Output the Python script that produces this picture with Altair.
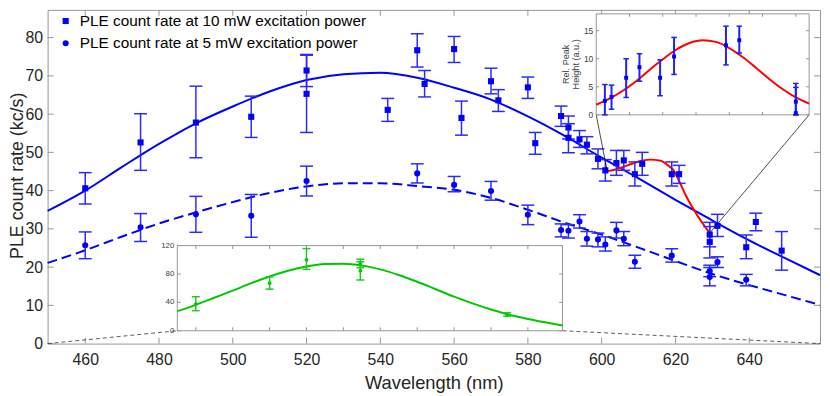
import altair as alt
import pandas as pd

FONT = "Liberation Sans"
LAB10 = "PLE count rate at 10 mW excitation power"
LAB5 = "PLE count rate at 5 mW excitation power"

# ---------------- data ----------------
sq_x = [460, 475, 490, 505, 520, 520, 542, 550, 552, 560, 562, 570, 572, 580, 582, 589, 591, 591, 594, 596,
        599, 601, 604, 606, 609, 611, 619, 621, 629.3, 629.3, 631.4, 639.2, 641.8, 648.8]
sq_y = [40.6, 52.6, 57.8, 59.3, 71.4, 65.3, 61.1, 76.7, 67.9, 77.0, 59.0, 68.6, 63.6, 67.0, 52.4, 59.5, 56.5, 53.8,
        53.4, 52.0, 48.3, 45.3, 47.2, 47.9, 44.3, 47.0, 44.3, 44.3, 28.5, 26.6, 30.8, 25.2, 31.8, 24.3]
sq_lo = [36.5, 45.3, 48.6, 53.9, 67.2, 55.2, 58.1, 72.3, 64.5, 73.5, 54.5, 65.3, 60.7, 64.1, 49.5, 56.8, 53.5, 49.9,
         51.3, 49.6, 45.7, 42.5, 44.0, 45.3, 41.2, 44.0, 41.2, 41.9, 25.3, 22.4, 28.0, 22.2, 29.5, 19.2]
sq_hi = [44.7, 60.1, 67.3, 64.7, 75.6, 75.4, 64.1, 81.0, 71.4, 80.3, 63.4, 72.0, 66.4, 69.7, 55.2, 62.1, 59.5, 57.5,
         55.7, 54.1, 50.9, 48.1, 50.5, 50.5, 47.5, 50.0, 47.5, 46.6, 31.7, 30.6, 33.8, 28.4, 34.1, 29.3]

ci_x = [460, 475, 490, 505, 520, 550, 560, 570, 580, 589, 591, 594, 596, 599, 601, 604, 606, 609, 619,
        629.3, 629.3, 631.4, 639.2]
ci_y = [25.7, 30.4, 33.8, 33.4, 42.5, 44.5, 41.5, 39.9, 33.7, 29.7, 29.5, 31.9, 27.4, 27.2, 25.9, 29.6, 27.4,
        21.4, 23.0, 19.0, 17.4, 21.3, 16.7]
ci_lo = [22.2, 26.7, 29.1, 27.8, 38.6, 42.0, 39.7, 37.5, 31.1, 27.9, 27.6, 30.2, 25.5, 25.3, 24.2, 27.6, 25.6,
         19.7, 21.3, 17.5, 15.1, 19.9, 15.1]
ci_hi = [29.2, 34.0, 38.5, 39.0, 46.4, 47.0, 43.7, 42.4, 36.2, 31.3, 31.1, 33.7, 29.3, 28.9, 27.9, 31.7, 29.3,
         23.1, 24.8, 20.5, 19.9, 22.7, 18.1]

fit_x = [449.8, 460, 470, 480, 490, 500, 510, 520, 530, 540, 550, 560, 570, 580, 590, 600, 610, 620, 630,
         640, 650, 659.2]
fit10_y = [34.7, 40.0, 46.2, 52.2, 57.6, 62.0, 65.9, 68.9, 70.4, 70.8, 69.5, 66.9, 63.8, 59.4, 54.3, 48.6,
           43.2, 37.6, 32.2, 27.0, 22.2, 17.9]
fit5_y = [21.1, 24.4, 28.0, 31.4, 34.3, 37.0, 39.4, 41.1, 41.9, 41.9, 41.2, 40.2, 38.1, 35.0, 31.6, 28.5,
          25.1, 21.6, 18.2, 15.3, 12.6, 10.1]

red_x = [601.5, 604, 607, 610, 613, 616, 618, 619.5, 621, 623, 625.7, 629.3]
red_y = [45.1, 45.6, 46.6, 47.6, 48.1, 47.8, 46.6, 45.3, 42.5, 38.4, 33.9, 28.9]

grn_x = [490, 510, 520, 534.6, 534.6, 574.4]
grn_y = [37.7, 67.0, 100.0, 94.5, 84.6, 22.8]
grn_lo = [28.3, 58.6, 86.5, 88.8, 71.5, 20.5]
grn_hi = [47.9, 75.8, 115.8, 100.8, 97.2, 25.5]
grnfit_x = [485, 490, 495, 500, 505, 510, 515, 520, 525, 530, 535, 540, 545, 550, 555, 560, 565, 570, 575,
            580, 585, 589.4]
grnfit_y = [27.5, 36.5, 46.5, 56.5, 67.0, 76.5, 84.5, 90.5, 94.0, 94.5, 92.0, 86.5, 78.5, 69.0, 58.5, 48.0,
            38.5, 30.0, 22.5, 16.5, 11.5, 7.4]

ins_x = [601.3, 602.3, 604.5, 606.5, 609.6, 611.7, 619.5, 621.5, 630.0, 630.0]
ins_y = [2.5, 3.2, 6.6, 8.5, 6.6, 10.4, 12.4, 13.3, 2.35, 0.3]
ins_lo = [0.0, 1.0, 3.1, 6.0, 3.4, 7.2, 8.9, 11.0, 0.0, 0.0]
ins_hi = [5.4, 5.3, 10.0, 10.9, 9.8, 13.8, 15.8, 15.8, 5.6, 4.9]
insfit_x = [600, 602, 604, 606, 608, 610, 612, 614, 616, 618, 620, 622, 624, 626, 628, 630, 632]
insfit_y = [1.8, 2.9, 4.3, 6.0, 8.0, 9.9, 11.6, 12.8, 13.3, 13.0, 11.9, 10.3, 8.4, 6.4, 4.6, 3.1, 2.0]

x_ticks = [460, 480, 500, 520, 540, 560, 580, 600, 620, 640]
y_ticks = [0, 10, 20, 30, 40, 50, 60, 70, 80]
grn_xticks = [490, 500, 510, 520, 530, 540, 550, 560, 570, 580]
grn_yticks = [0, 40, 80, 120]
ins_xticks = [605, 610, 615, 620, 625, 630]
ins_yticks = [0, 5, 10, 15]
ins_title = ["Rel. Peak", "Height (a.u.)"]

# ---------------- layout ----------------
W, H = 780, 337
X_DOM = [449.8, 659.2]
Y_DOM = [0, 87.25]
GRN_DX, GRN_DY = [485, 589.4], [0, 120]
GRN_RX, GRN_RY = [131, 520], [324, 238]
INS_DX, INS_DY = [600, 632], [0, 18]
INS_RX, INS_RY = [554, 769], [106, 4]

FRAME = "#969696"
BLUE = "#0000ff"
EBAR = "#2a2aff"
GREEN = "#00c800"
GBAR = "#22c822"
RED = "#ff0000"


def to_main(px, py):
    return (X_DOM[0] + px / W * (X_DOM[1] - X_DOM[0]),
            Y_DOM[0] + (H - py) / H * (Y_DOM[1] - Y_DOM[0]))


SX = alt.Scale(domain=X_DOM, nice=False, zero=False)
SY = alt.Scale(domain=Y_DOM, nice=False, zero=False)
AX_X = alt.Axis(values=x_ticks, title="Wavelength (nm)", tickSize=0, domain=False, grid=False,
                labelPadding=8, labelFontSize=16, titleFontSize=18.5, titleY=45,
                titleBaseline="alphabetic", labelFlush=False, format="d")
AX_Y = alt.Axis(values=y_ticks, title="PLE count rate (kc/s)", tickSize=0, domain=False, grid=False,
                labelPadding=5, labelFontSize=16, titleFontSize=18, titleX=-25, titleY=167,
                titleAngle=270, titleAlign="center", titleBaseline="alphabetic", format="d")


def MX(f):
    return alt.X(f, scale=SX, axis=AX_X)


def MY(f):
    return alt.Y(f, scale=SY, axis=AX_Y)


pts = pd.DataFrame({
    "x": sq_x + ci_x, "y": sq_y + ci_y, "lo": sq_lo + ci_lo, "hi": sq_hi + ci_hi,
    "s": [LAB10] * len(sq_x) + [LAB5] * len(ci_x)})
fit = pd.DataFrame({"x": fit_x, "y10": fit10_y, "y5": fit5_y})
redm = pd.DataFrame({"x": red_x, "y": red_y})

# connectors
c1 = to_main(INS_RX[0], INS_RY[0])
c2 = to_main(INS_RX[1], INS_RY[0])
conn_red = pd.DataFrame({
    "x": [c1[0], red_x[0], c2[0], red_x[-1]],
    "y": [c1[1], red_y[0], c2[1], red_y[-1]],
    "g": ["a", "a", "b", "b"]})
g1 = to_main(GRN_RX[0], GRN_RY[0])
g2 = to_main(GRN_RX[1], GRN_RY[0])
conn_grn = pd.DataFrame({
    "x": [g1[0], X_DOM[0], g2[0], X_DOM[1]],
    "y": [g1[1], Y_DOM[0], g2[1], Y_DOM[0]],
    "g": ["a", "a", "b", "b"]})

xt = pd.DataFrame({"x": x_ticks, "b0": Y_DOM[0], "b1": Y_DOM[1]})
yt = pd.DataFrame({"y": y_ticks, "b0": X_DOM[0], "b1": X_DOM[1]})
TL = 6

main = alt.layer(
    alt.Chart(xt).mark_rule(color=FRAME, y2Offset=-TL).encode(x=MX("x:Q"), y=MY("b0:Q"), y2="b0:Q"),
    alt.Chart(xt).mark_rule(color=FRAME, y2Offset=TL).encode(x=MX("x:Q"), y=MY("b1:Q"), y2="b1:Q"),
    alt.Chart(yt).mark_rule(color=FRAME, x2Offset=TL).encode(y=MY("y:Q"), x=MX("b0:Q"), x2="b0:Q"),
    alt.Chart(yt).mark_rule(color=FRAME, x2Offset=-TL).encode(y=MY("y:Q"), x=MX("b1:Q"), x2="b1:Q"),
    alt.Chart(conn_grn).mark_line(color="#333333", strokeWidth=0.8, strokeDash=[4, 3]).encode(
        x=MX("x:Q"), y=MY("y:Q"), detail="g:N"),
    alt.Chart(fit).mark_line(color=BLUE, strokeWidth=2, interpolate="monotone").encode(
        x=MX("x:Q"), y=MY("y10:Q")),
    alt.Chart(fit).mark_line(color=BLUE, strokeWidth=2, interpolate="monotone", strokeDash=[10, 5]).encode(
        x=MX("x:Q"), y=MY("y5:Q")),
    alt.Chart(redm).mark_line(color=RED, strokeWidth=2, interpolate="monotone").encode(
        x=MX("x:Q"), y=MY("y:Q")),
    alt.Chart(pts).mark_rule(color=EBAR, strokeWidth=1.5).encode(x=MX("x:Q"), y=MY("lo:Q"), y2="hi:Q"),
    alt.Chart(pts).mark_rule(color=EBAR, strokeWidth=1.5, xOffset=-6.5, x2Offset=6.5).encode(
        x=MX("x:Q"), x2="x:Q", y=MY("lo:Q")),
    alt.Chart(pts).mark_rule(color=EBAR, strokeWidth=1.5, xOffset=-6.5, x2Offset=6.5).encode(
        x=MX("x:Q"), x2="x:Q", y=MY("hi:Q")),
    alt.Chart(pts).mark_point(filled=True, size=38, color=BLUE, opacity=1).encode(
        x=MX("x:Q"), y=MY("y:Q"),
        shape=alt.Shape("s:N", scale=alt.Scale(domain=[LAB10, LAB5], range=["square", "circle"]),
                        legend=alt.Legend(orient="none", legendX=10.5, legendY=3.5, title=None,
                                          labelFontSize=15.5, labelFont=FONT, labelColor="#000000",
                                          labelOffset=6.5, rowPadding=5.5, padding=0,
                                          symbolSize=38, symbolFillColor=BLUE, symbolStrokeColor=BLUE,
                                          symbolStrokeWidth=0, symbolOpacity=1, labelLimit=400))),
    alt.Chart(conn_red).mark_line(color="#000000", strokeWidth=0.7).encode(
        x=MX("x:Q"), y=MY("y:Q"), detail="g:N"),
)


def inset(dx, dy, rx, ry, xticks, yticks, tl, lab_size):
    SXi = alt.Scale(domain=dx, range=rx, nice=False, zero=False)
    SYi = alt.Scale(domain=dy, range=ry, nice=False, zero=False)

    def IX(f):
        return alt.X(f, scale=SXi, axis=None)

    def IY(f):
        return alt.Y(f, scale=SYi, axis=None)

    fr = pd.DataFrame({"x0": [dx[0]], "x1": [dx[1]], "y0": [dy[0]], "y1": [dy[1]]})
    xt_i = pd.DataFrame({"x": xticks, "b0": dy[0], "b1": dy[1]})
    yt_i = pd.DataFrame({"y": yticks, "b0": dx[0], "b1": dx[1]})
    layers = [
        alt.Chart(fr).mark_rect(fill="white", stroke=FRAME, strokeWidth=1).encode(
            x=IX("x0:Q"), x2="x1:Q", y=IY("y0:Q"), y2="y1:Q"),
        alt.Chart(xt_i).mark_rule(color=FRAME, y2Offset=-tl).encode(x=IX("x:Q"), y=IY("b0:Q"), y2="b0:Q"),
        alt.Chart(xt_i).mark_rule(color=FRAME, y2Offset=tl).encode(x=IX("x:Q"), y=IY("b1:Q"), y2="b1:Q"),
        alt.Chart(yt_i).mark_rule(color=FRAME, x2Offset=tl).encode(y=IY("y:Q"), x=IX("b0:Q"), x2="b0:Q"),
        alt.Chart(yt_i).mark_rule(color=FRAME, x2Offset=-tl).encode(y=IY("y:Q"), x=IX("b1:Q"), x2="b1:Q"),
        alt.Chart(yt_i).mark_text(align="right", baseline="middle", dx=-3, fontSize=lab_size,
                                  color="#404040", font=FONT).encode(
            y=IY("y:Q"), x=IX("b0:Q"), text="y:N"),
    ]
    return IX, IY, layers


# green inset
GIX, GIY, glayers = inset(GRN_DX, GRN_DY, GRN_RX, GRN_RY, grn_xticks, grn_yticks, 3.5, 8)
gd = pd.DataFrame({"x": grn_x, "y": grn_y, "lo": grn_lo, "hi": grn_hi})
gf = pd.DataFrame({"x": grnfit_x, "y": grnfit_y})
glayers += [
    alt.Chart(gf).mark_line(color=GREEN, strokeWidth=2, interpolate="monotone").encode(x=GIX("x:Q"), y=GIY("y:Q")),
    alt.Chart(gd).mark_rule(color=GBAR, strokeWidth=1.5).encode(x=GIX("x:Q"), y=GIY("lo:Q"), y2="hi:Q"),
    alt.Chart(gd).mark_rule(color=GBAR, strokeWidth=1.5, xOffset=-4, x2Offset=4).encode(
        x=GIX("x:Q"), x2="x:Q", y=GIY("lo:Q")),
    alt.Chart(gd).mark_rule(color=GBAR, strokeWidth=1.5, xOffset=-4, x2Offset=4).encode(
        x=GIX("x:Q"), x2="x:Q", y=GIY("hi:Q")),
    alt.Chart(gd).mark_circle(size=14, color=GREEN, opacity=1).encode(x=GIX("x:Q"), y=GIY("y:Q")),
]
green = alt.layer(*glayers)

# red inset
RIX, RIY, rlayers = inset(INS_DX, INS_DY, INS_RX, INS_RY, ins_xticks, ins_yticks, 3, 8.5)
rd = pd.DataFrame({"x": ins_x, "y": ins_y, "lo": ins_lo, "hi": ins_hi})
rf = pd.DataFrame({"x": insfit_x, "y": insfit_y})
tt = pd.DataFrame({"t": ins_title, "px": [523.5, 534.0], "py": [55, 55]})
rlayers += [
    alt.Chart(rf).mark_line(color=RED, strokeWidth=2, interpolate="monotone").encode(x=RIX("x:Q"), y=RIY("y:Q")),
    alt.Chart(rd).mark_rule(color="#1f1fff", strokeWidth=2).encode(x=RIX("x:Q"), y=RIY("lo:Q"), y2="hi:Q"),
    alt.Chart(rd).mark_rule(color="#1f1fff", strokeWidth=1.5, xOffset=-2.8, x2Offset=2.8).encode(
        x=RIX("x:Q"), x2="x:Q", y=RIY("lo:Q")),
    alt.Chart(rd).mark_rule(color="#1f1fff", strokeWidth=1.5, xOffset=-2.8, x2Offset=2.8).encode(
        x=RIX("x:Q"), x2="x:Q", y=RIY("hi:Q")),
    alt.Chart(rd).mark_square(size=16, color=BLUE, opacity=1).encode(x=RIX("x:Q"), y=RIY("y:Q")),
    alt.Chart(tt).mark_text(angle=270, align="center", baseline="middle", fontSize=9.2,
                            color="#404040", font=FONT).encode(
        x=alt.X("px:Q", scale=None), y=alt.Y("py:Q", scale=None), text="t:N"),
]
redinset = alt.layer(*rlayers)

chart = alt.layer(main, green, redinset).resolve_scale(
    x="independent", y="independent", shape="independent"
).properties(
    width=W, height=H,
    autosize=alt.AutoSizeParams(type="none"),
    padding={"left": 40, "top": 0, "right": 2, "bottom": 51},
).configure(font=FONT).configure_view(
    stroke=FRAME, strokeWidth=1
).configure_axis(
    labelColor="#262626", titleColor="#262626", titleFontWeight="normal",
    labelFont=FONT, titleFont=FONT
)

chart.save("out.html", embed_options={"renderer": "svg", "actions": False})
